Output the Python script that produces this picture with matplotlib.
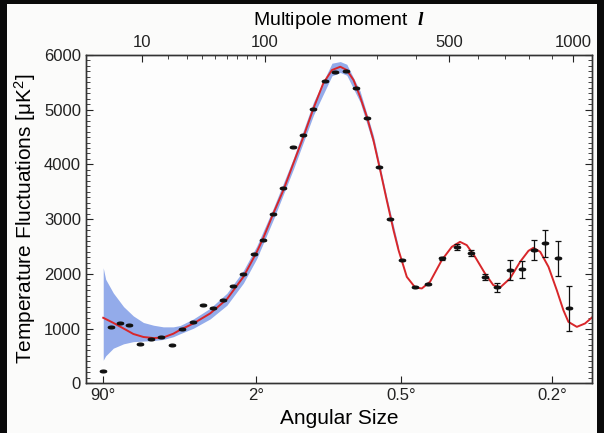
import numpy as np
import matplotlib
matplotlib.use("Agg")
import matplotlib.pyplot as plt
from matplotlib.patches import Rectangle

plt.rcParams["font.family"] = ["Liberation Sans", "DejaVu Sans"]
plt.rcParams["mathtext.fontset"] = "custom"
plt.rcParams["mathtext.rm"] = "Liberation Sans"
plt.rcParams["mathtext.it"] = "Liberation Serif:italic:bold"
plt.rcParams["mathtext.bf"] = "Liberation Serif:bold"

# binned power spectrum points (multipole l, D_l in uK^2, error)
data_l = [2, 3.05, 4.65, 6.6, 9.6, 13.0, 16.9, 22.1, 27.4, 33.8, 40.6, 48.5, 56.9,
          65.7, 76.0, 87.3, 98.5, 110.4, 124.6, 139.1, 154.5, 170.9, 191.4, 210,
          231.6, 252.5, 277.4, 304, 332, 361.7, 397, 434.5, 476.5, 525.6, 573,
          623, 670, 719, 770, 818, 870, 926, 978]
data_y = [219, 1030, 1097, 1061, 713, 811, 841, 707, 1000, 1121, 1432, 1372, 1524,
          1768, 2000, 2354, 2610, 3091, 3561, 4316, 4530, 5006, 5524, 5694,
          5712, 5401, 4841, 3945, 2999, 2244, 1756, 1816, 2281, 2493, 2378,
          1944, 1756, 2067, 2080, 2433, 2555, 2281, 1366]
data_err = [0, 0, 0, 0, 0, 0, 0, 0, 0, 0, 0, 0, 0,
            0, 0, 0, 0, 0, 0, 0, 0, 0, 0, 0,
            0, 0, 0, 0, 0, 0, 0, 0, 30, 50, 50,
            60, 80, 180, 150, 180, 250, 320, 410]

# best-fit model curve
model_l = [2, 3.4, 5.3, 7.6, 10.5, 14, 18, 22.7, 26.3, 34.2, 46, 60, 76, 90.7,
           98.5, 111, 124.6, 139, 154.5, 171, 188, 204, 220, 233, 247, 261, 276,
           291, 307, 323, 340, 353, 375, 398, 417, 441, 477, 509, 536, 559, 588,
           624, 655, 681, 720, 761, 796, 817, 847, 884, 922, 953, 977, 1018,
           1059, 1094]
model_y = [1196, 1103, 1000, 900, 845, 825, 836, 905, 975, 1092, 1275, 1536, 1944,
           2400, 2660, 3104, 3530, 4018, 4505, 5024, 5482, 5725, 5785, 5725, 5542,
           5237, 4871, 4444, 3896, 3347, 2798, 2433, 1944, 1750, 1732, 1853, 2250,
           2493, 2584, 2524, 2310, 2005, 1792, 1750, 1915, 2219, 2420, 2475, 2402,
           2127, 1701, 1335, 1121, 1030, 1092, 1201]

# cosmic variance band
band_l = [2, 2.3, 3.4, 5.3, 7.6, 10.5, 14, 18, 22.7, 26.3, 34.2, 46, 60, 76, 90.7,
          111, 139, 171, 204, 220, 233, 261, 291, 323, 353]
band_lo = [420, 500, 640, 720, 760, 770, 780, 800, 850, 905, 1005, 1175, 1425,
           1830, 2280, 2990, 3910, 4900, 5620, 5680, 5630, 5140, 4360, 3280, 2380]
band_hi = [2110, 1900, 1650, 1400, 1230, 1110, 1060, 1030, 1030, 1055, 1175, 1370,
           1645, 2060, 2510, 3200, 4110, 5140, 5850, 5880, 5830, 5340, 4530, 3410, 2490]

top_ticks = [10, 100, 500, 1000]
top_minor = [20, 30, 40, 50, 60, 70, 80, 90, 200, 300, 400, 600, 700, 800, 900]
bottom_ticks = [2, 90, 360, 900]
bottom_labels = ["90°", "2°", "0.5°", "0.2°"]


def fwd(l):
    return np.power(np.clip(l, 1e-9, None), 0.4)


def inv(u):
    return np.power(np.clip(u, 0, None), 2.5)


fig = plt.figure(figsize=(6.04, 4.33), dpi=100, facecolor="#fbfbfa")
ax = fig.add_axes([0.142, 0.115, 0.838, 0.758])
ax.set_facecolor("#fdfdfd")
ax.set_xscale("function", functions=(fwd, inv))
xlim = (0.537, 1094)
ax.set_xlim(*xlim)
ax.set_ylim(0, 6000)

ax.fill_between(band_l, band_lo, band_hi, color="#93abea", lw=0, zorder=1)
ax.plot(model_l, model_y, color="#d8262a", lw=1.4, zorder=2)

err = np.array(data_err)
dl = np.array(data_l)
dy = np.array(data_y)
m = err > 0
ax.errorbar(dl[m], dy[m], yerr=err[m], fmt="none", ecolor="#111111",
            elinewidth=0.9, capsize=2.5, capthick=0.9, zorder=3)
t = np.linspace(0, 2 * np.pi, 30)
ell = list(zip(np.cos(t), 0.42 * np.sin(t)))
ax.plot(dl, dy, ls="none", marker=ell, ms=4.6, color="#111111", zorder=4)

ax.set_xticks(bottom_ticks)
ax.set_xticklabels(bottom_labels)
ax.xaxis.set_minor_locator(matplotlib.ticker.NullLocator())
ax.set_yticks(range(0, 6001, 1000))
ax.set_yticks(range(0, 6001, 100), minor=True)
ax.tick_params(axis="both", which="both", direction="in", labelsize=12, colors="#222222")
ax.tick_params(axis="y", which="both", right=True)
ax.tick_params(which="major", length=5)
ax.tick_params(which="minor", length=3)
ax.set_xlabel("Angular Size", fontsize=15, labelpad=4)
ax.set_ylabel("Temperature Fluctuations [μK$^2$]", fontsize=15, labelpad=4)

ax2 = ax.twiny()
ax2.set_xscale("function", functions=(fwd, inv))
ax2.set_xlim(*xlim)
ax2.set_xticks(top_ticks)
ax2.set_xticklabels([str(v) for v in top_ticks])
ax2.set_xticks(top_minor, minor=True)
ax2.tick_params(axis="x", which="both", direction="in", labelsize=12, colors="#222222")
ax2.tick_params(which="major", length=5)
ax2.tick_params(which="minor", length=3)
ax2.set_xlabel(r"Multipole moment  $l$", fontsize=14, labelpad=7)

for a in (ax, ax2):
    for s in a.spines.values():
        s.set_color("#333333")
        s.set_linewidth(1.0)

# dark photo frame around the figure
for x0, y0, w, h in [(0, 0, 7 / 604, 1), (1 - 7 / 604, 0, 7 / 604, 1),
                     (0, 1 - 4 / 433, 1, 4 / 433)]:
    fig.add_artist(Rectangle((x0, y0), w, h, transform=fig.transFigure,
                             color="#0a0a0a", lw=0))

fig.savefig("out.png", dpi=100, facecolor=fig.get_facecolor())
